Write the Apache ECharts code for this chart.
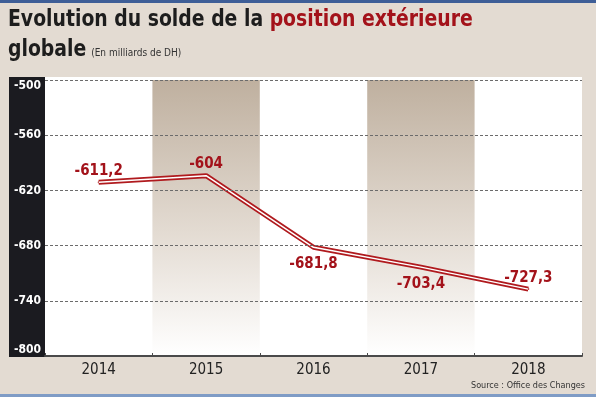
<!DOCTYPE html>
<html>
<head>
<meta charset="utf-8">
<script src="https://cdn.jsdelivr.net/npm/echarts@6/dist/echarts.min.js"></script>
<style>
  html, body { margin: 0; padding: 0; background: #e3dbd2; }
  #main { width: 596px; height: 397px; }
</style>
</head>
<body>
<div id="main"></div>
<script>
var years = ['2014', '2015', '2016', '2017', '2018'];
var solde = [-611.2, -604, -681.8, -703.4, -727.3];
var shaded = [null, 1, null, 1, null];
var labelSide = ['top', 'top', 'bottom', 'bottom', 'top'];

var narrow = '"DejaVu Sans Condensed", "Liberation Sans Narrow", sans-serif';
var red = '#a3121a';

function fr(v) {
    return String(v).replace('.', ',');
}

var chartDom = document.getElementById('main');
var myChart = echarts.init(chartDom, null, { renderer: 'canvas' });

var option = {
    backgroundColor: '#e3dbd2',
    animation: false,
    graphic: [
        { type: 'rect', shape: { x: 0, y: 0, width: 596, height: 3 }, style: { fill: '#3e5e97' } },
        { type: 'rect', shape: { x: 0, y: 394, width: 596, height: 3 }, style: { fill: '#7f9cc6' } },
        { type: 'rect', z: -1, shape: { x: 9, y: 77, width: 36, height: 280 }, style: { fill: '#1b1b20' } },
        { type: 'rect', z: -1, shape: { x: 45, y: 77, width: 537, height: 279 }, style: { fill: '#ffffff' } },
        {
            type: 'text', x: 8, y: 5, scaleX: 0.91,
            style: {
                text: '{a|Evolution du solde de la }{b|position extérieure}\n{a|globale} {c|(En milliards de DH)}',
                rich: {
                    a: { fontFamily: narrow, fontWeight: 'bold', fontSize: 23, fill: '#1d1d1d', lineHeight: 30 },
                    b: { fontFamily: narrow, fontWeight: 'bold', fontSize: 23, fill: red, lineHeight: 30 },
                    c: { fontFamily: narrow, fontSize: 11, fill: '#333', lineHeight: 30, padding: [6, 0, 0, 2] }
                }
            }
        },
        {
            type: 'text', right: 11, top: 381,
            style: { text: 'Source : Office des Changes', font: '9px ' + narrow, fill: '#333' }
        }
    ],
    grid: { left: 45, right: 14, top: 80, bottom: 41 },
    xAxis: {
        type: 'category',
        data: years,
        z: 6,
        axisLine: { lineStyle: { color: '#4a4a4a', width: 2 } },
        axisTick: { show: true, inside: true, length: 3, lineStyle: { color: '#4a4a4a' } },
        axisLabel: { fontFamily: narrow, fontSize: 15, color: '#222', margin: 7 }
    },
    yAxis: [
        {
            type: 'value',
            min: -800,
            max: -500,
            interval: 60,
            z: 5,
            axisLine: { show: false },
            axisTick: { show: false },
            axisLabel: {
                fontFamily: narrow, fontWeight: 'bold', fontSize: 12, color: '#ffffff',
                align: 'left', margin: 31,
                verticalAlignMinLabel: 'bottom', verticalAlignMaxLabel: 'top'
            },
            splitLine: { lineStyle: { color: '#6b6b6b', type: [3, 2], width: 1 } }
        },
        { type: 'value', min: 0, max: 1, show: false }
    ],
    series: [
        {
            type: 'bar',
            yAxisIndex: 1,
            barWidth: '100%',
            silent: true,
            z: 1,
            data: shaded,
            itemStyle: {
                color: new echarts.graphic.LinearGradient(0, 0, 0, 1, [
                    { offset: 0, color: '#bfb09f' },
                    { offset: 0.55, color: '#e3dbd2' },
                    { offset: 1, color: '#ffffff' }
                ])
            }
        },
        {
            type: 'line',
            data: solde.map(function (v, i) {
                var side = labelSide[i];
                return {
                    value: v,
                    label: { position: side, distance: side === 'top' ? 3 : 8 }
                };
            }),
            symbol: 'circle',
            symbolSize: 2,
            showSymbol: true,
            z: 3,
            itemStyle: { color: '#b01a1e' },
            lineStyle: { color: '#b01a1e', width: 5 },
            label: {
                show: true,
                fontFamily: narrow,
                fontWeight: 'bold',
                fontSize: 15,
                color: red,
                formatter: function (p) { return fr(p.value); }
            }
        },
        {
            type: 'line',
            data: solde,
            symbol: 'none',
            z: 4,
            lineStyle: { color: '#ffffff', width: 1.5 }
        }
    ]
};

myChart.setOption(option);
</script>
</body>
</html>
